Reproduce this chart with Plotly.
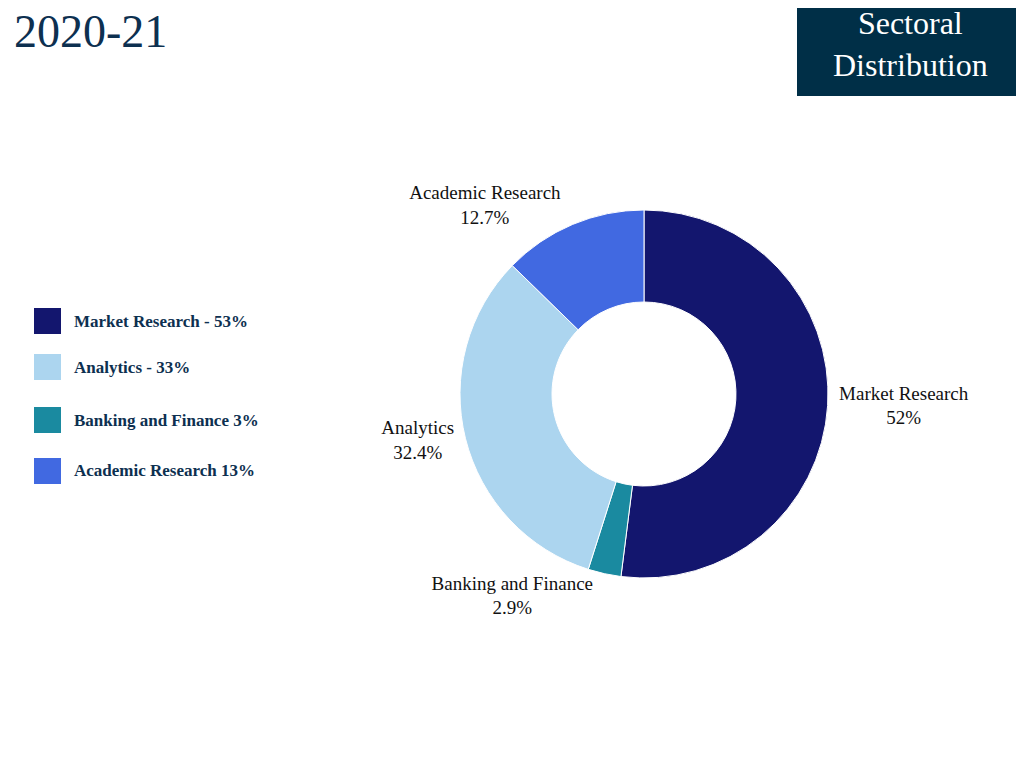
import plotly.graph_objects as go

categories = ["Market Research", "Banking and Finance", "Analytics", "Academic Research"]
values = [52.0, 2.9, 32.4, 12.7]
colors = ["#13166e", "#1a8aa0", "#acd5ef", "#4169e1"]
legend_labels = ["Market Research - 53%", "Analytics - 33%", "Banking and Finance 3%", "Academic Research 13%"]
legend_colors = ["#13166e", "#acd5ef", "#1a8aa0", "#4169e1"]
legend_y = [321, 367, 420, 471]

OFF = 8
W, H = 1024 - OFF, 768 - OFF
def px(x): return (x - OFF) / W
def py(y): return 1 - (y - OFF) / H

pct = [("%.1f" % v).rstrip("0").rstrip(".") + "%" for v in values]

fig = go.Figure(go.Pie(
    labels=categories, values=values, text=pct, hole=0.5, sort=False,
    direction="clockwise", rotation=0,
    marker=dict(colors=colors, line=dict(color="white", width=1)),
    textposition="outside", texttemplate="%{label}<br>%{text}",
    textfont=dict(family="Liberation Serif", size=19, color="#111111"),
    domain=dict(x=[px(644-184), px(644+184)], y=[py(394+184), py(394-184)]),
    showlegend=False, hoverinfo="label+percent",
))

shapes = [dict(type="rect", xref="paper", yref="paper", x0=px(797), x1=px(1024), y0=py(96), y1=py(0),
               fillcolor="#002f47", line=dict(width=0), layer="below")]
annotations = [
    dict(text="2020-21", x=px(12), y=py(4), xref="paper", yref="paper", xanchor="left", yanchor="top",
         showarrow=False, font=dict(family="Liberation Serif", size=46, color="#0d3050")),
    dict(text="Sectoral<br>Distribution", x=px((797+1024)/2), y=py(44), xref="paper", yref="paper",
         xanchor="center", yanchor="middle", align="center",
         showarrow=False, font=dict(family="Liberation Serif", size=32, color="white")),
]
for lab, col, yy in zip(legend_labels, legend_colors, legend_y):
    shapes.append(dict(type="rect", xref="paper", yref="paper", x0=px(35), x1=px(60),
                       y0=py(yy+12), y1=py(yy-12), fillcolor=col, line=dict(color=col, width=2)))
    annotations.append(dict(text="<b>%s</b>" % lab, x=px(72), y=py(yy), xref="paper", yref="paper",
                            xanchor="left", yanchor="middle", showarrow=False,
                            font=dict(family="Liberation Serif", size=17, color="#0d3050")))

fig.update_layout(width=W, height=H, margin=dict(l=0, r=0, t=0, b=0),
                  paper_bgcolor="white", shapes=shapes, annotations=annotations)
fig.write_html("out.html")
